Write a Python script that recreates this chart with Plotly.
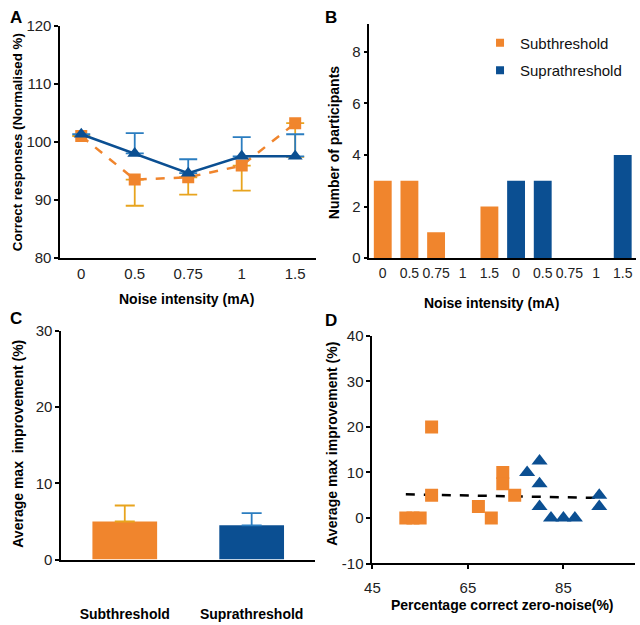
import plotly.graph_objects as go

# ---------------- data ----------------
noise_levels = ["0", "0.5", "0.75", "1", "1.5"]

# Panel A
sub_mean = [101.0, 93.5, 93.9, 95.9, 103.2]
sub_err_minus = [0.0, 4.5, 3.0, 4.3, 5.8]
supra_mean = [101.3, 98.0, 94.6, 97.5, 97.5]
supra_err_plus = [0.0, 3.5, 2.4, 3.3, 3.8]

# Panel B
sub_counts = [3, 3, 1, 0, 2]
supra_counts = [3, 3, 0, 0, 4]
legend_names = ["Subthreshold", "Suprathreshold"]

# Panel C
groups = ["Subthreshold", "Suprathreshold"]
group_mean = [5.0, 4.5]
group_err = [2.1, 1.6]

# Panel D
sub_pct = [52.0, 53.5, 55.0, 57.4, 57.4, 67.2, 69.9, 72.3, 72.3, 74.8]
sub_impr = [0.0, 0.0, 0.0, 20.0, 5.0, 2.5, 0.0, 10.0, 7.5, 5.0]
supra_pct = [77.4, 80.0, 80.0, 80.0, 82.4, 85.0, 87.4, 92.5, 92.5]
supra_impr = [10.0, 12.5, 7.5, 2.5, 0.0, 0.0, 0.0, 5.0, 2.5]
trend_x = [52.0, 92.5]
trend_y = [5.2, 4.4]

# ---------------- style ----------------
ORANGE = "#F0852D"
BLUE = "#0B4F92"
ORANGE_ERR = "#E8A41E"
BLUE_ERR = "#2B7DC0"
FONT = "Arial, Liberation Sans, sans-serif"
W, H = 640, 625

fig = go.Figure()

# Panel A
fig.add_trace(go.Scatter(
    x=noise_levels, y=sub_mean, mode="lines+markers", xaxis="x", yaxis="y",
    line=dict(color=ORANGE, width=2.5, dash="dash"),
    marker=dict(symbol="square", size=12, color=ORANGE),
    error_y=dict(type="data", symmetric=False, array=[0]*5, arrayminus=sub_err_minus,
                 color=ORANGE_ERR, thickness=1.8, width=9),
    showlegend=False))
fig.add_trace(go.Scatter(
    x=noise_levels, y=supra_mean, mode="lines+markers", xaxis="x", yaxis="y",
    line=dict(color=BLUE, width=2.5),
    marker=dict(symbol="triangle-up", size=13, color=BLUE),
    error_y=dict(type="data", symmetric=False, array=supra_err_plus, arrayminus=[0]*5,
                 color=BLUE_ERR, thickness=1.8, width=9),
    showlegend=False))

# Panel B
b_ticktext = noise_levels + noise_levels
fig.add_trace(go.Bar(
    x=list(range(len(sub_counts))), y=sub_counts, xaxis="x2", yaxis="y2",
    marker=dict(color=ORANGE, line=dict(width=0)), width=0.67,
    name=legend_names[0], showlegend=False))
fig.add_trace(go.Bar(
    x=[i + len(sub_counts) for i in range(len(supra_counts))], y=supra_counts,
    xaxis="x2", yaxis="y2",
    marker=dict(color=BLUE, line=dict(width=0)), width=0.67,
    name=legend_names[1], showlegend=False))
# legend entries (small square swatches)
for nm, col, grp in [(legend_names[0], ORANGE, "a"), (legend_names[1], BLUE, "b")]:
    fig.add_trace(go.Scatter(
        x=[None], y=[None], mode="markers", xaxis="x2", yaxis="y2",
        marker=dict(symbol="square", size=8, color=col),
        name=nm, legendgroup=grp, showlegend=True))

# Panel C
fig.add_trace(go.Bar(
    x=[groups[0]], y=[group_mean[0]], xaxis="x3", yaxis="y3", width=0.51,
    marker=dict(color=ORANGE, line=dict(width=0)),
    error_y=dict(type="data", symmetric=False, array=[group_err[0]], arrayminus=[0],
                 color=ORANGE_ERR, thickness=1.8, width=10),
    showlegend=False))
fig.add_trace(go.Bar(
    x=[groups[1]], y=[group_mean[1]], xaxis="x3", yaxis="y3", width=0.51,
    marker=dict(color=BLUE, line=dict(width=0)),
    error_y=dict(type="data", symmetric=False, array=[group_err[1]], arrayminus=[0],
                 color=BLUE_ERR, thickness=1.8, width=10),
    showlegend=False))

# Panel D
fig.add_trace(go.Scatter(
    x=trend_x, y=trend_y, mode="lines", xaxis="x4", yaxis="y4",
    line=dict(color="black", width=2.5, dash="dash"), showlegend=False))
fig.add_trace(go.Scatter(
    x=sub_pct, y=sub_impr, mode="markers", xaxis="x4", yaxis="y4",
    marker=dict(symbol="square", size=13, color=ORANGE), showlegend=False))
fig.add_trace(go.Scatter(
    x=supra_pct, y=supra_impr, mode="markers", xaxis="x4", yaxis="y4",
    marker=dict(symbol="triangle-up", size=14, color=BLUE), showlegend=False))


def dom_x(a, b):
    return [a / W, b / W]


def dom_y(top, bottom):
    return [1 - bottom / H, 1 - top / H]


TICK = 15
axis_common = dict(showline=True, linecolor="black", linewidth=1.8, showgrid=False,
                   zeroline=False, mirror=False,
                   tickfont=dict(family=FONT, size=TICK, color="#222"))

fig.update_layout(
    width=W, height=H, margin=dict(l=0, r=0, t=0, b=0),
    paper_bgcolor="white", plot_bgcolor="white",
    font=dict(family=FONT, color="black"),
    barmode="overlay",
    legend=dict(x=478 / W, y=1 - 18 / H, xanchor="left", yanchor="top",
                font=dict(family=FONT, size=15, color="#111"),
                bgcolor="rgba(0,0,0,0)", tracegroupgap=5, itemwidth=30),
    xaxis=dict(axis_common, domain=dom_x(53, 312), anchor="y", type="category",
               ticks="", ticklabelstandoff=1),
    yaxis=dict(axis_common, domain=dom_y(17, 256), anchor="x", range=[80, 120],
               tickvals=[80, 90, 100, 110, 120], ticks="outside", ticklen=4,
               tickcolor="black", tickwidth=1.5),
    xaxis2=dict(axis_common, domain=dom_x(366, 636), anchor="y2", range=[-0.5, 9.5],
                tickvals=list(range(10)), ticktext=b_ticktext, ticks="",
                tickangle=0, ticklabelstandoff=1,
                tickfont=dict(family=FONT, size=14, color="#222")),
    yaxis2=dict(axis_common, domain=dom_y(15, 256), anchor="x2", range=[0, 9.1],
                tickvals=[0, 2, 4, 6, 8], ticks="outside", ticklen=4,
                tickcolor="black", tickwidth=1.5),
    xaxis3=dict(axis_common, domain=dom_x(54, 311), anchor="y3", type="category",
                tickvals=groups, ticktext=["<b>" + g + "</b>" for g in groups],
                ticks="", ticklabelstandoff=41,
                tickfont=dict(family=FONT, size=14, color="black")),
    yaxis3=dict(axis_common, domain=dom_y(331, 566), anchor="x3", range=[0, 30],
                tickvals=[0, 10, 20, 30], ticks="outside", ticklen=4,
                tickcolor="black", tickwidth=1.5),
    xaxis4=dict(axis_common, domain=dom_x(369, 635), anchor="y4", range=[45, 100],
                tickvals=[45, 65, 85], ticks="outside", ticklen=4,
                tickcolor="black", tickwidth=1.5, ticklabelstandoff=6),
    yaxis4=dict(axis_common, domain=dom_y(336, 570), anchor="x4", range=[-10, 40],
                tickvals=[-10, 0, 10, 20, 30, 40], ticktext=["-10", "0", "10", "20", "30", "40"],
                ticks="outside", ticklen=4,
                tickcolor="black", tickwidth=1.5),
)

ann = []


def label(text, x, y, size=14, angle=0, bold=True):
    ann.append(dict(text=("<b>%s</b>" % text) if bold else text, x=x / W, y=1 - y / H,
                    xref="paper", yref="paper", showarrow=False, textangle=angle,
                    xanchor="center", yanchor="middle",
                    font=dict(family=FONT, size=size, color="black")))


# panel letters
label("A", 8, 9, size=17)
label("B", 327, 9, size=17)
label("C", 8, 318, size=17)
label("D", 327, 320, size=17)
# axis titles
label("Correct responses (Normalised %)", 9, 137, size=13.3, angle=-90)
label("Noise intensity (mA)", 181, 298)
label("Number of participants", 330, 137, angle=-90)
label("Noise intensity (mA)", 490, 302)
label("Average max\u00a0 improvement (%)", 10, 447, angle=-90)
label("Average max improvement (%)", 328, 447, angle=-90)
label("Percentage correct zero-noise(%)", 501, 613)

fig.update_layout(annotations=ann)

fig.write_html("out.html", config={"displayModeBar": False},
               post_script="document.body.style.margin='0';document.body.style.overflow='hidden';")
